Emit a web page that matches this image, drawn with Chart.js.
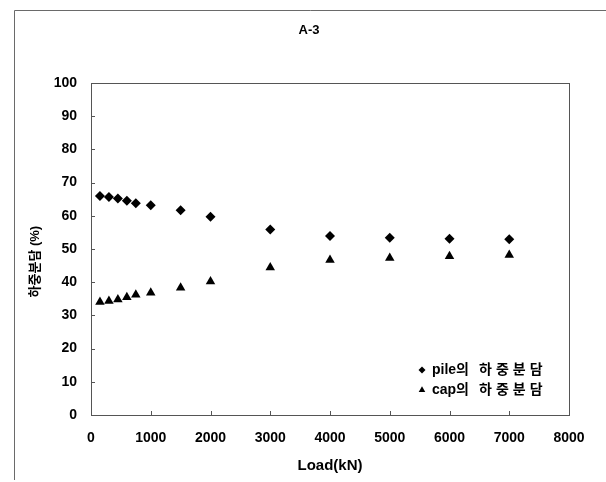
<!DOCTYPE html>
<html>
<head>
<meta charset="utf-8">
<script src="https://cdn.jsdelivr.net/npm/chart.js@4.4.1/dist/chart.umd.min.js"></script>
<style>
  html, body { margin: 0; padding: 0; background: #fff; }
  #wrap { width: 606px; height: 482px; position: relative; }
</style>
</head>
<body>
<div id="wrap"><canvas id="chart" width="606" height="482"></canvas></div>
<script>
// Load steps (kN) and the share of load carried by pile / cap (%)
const loads = [150, 300, 450, 600, 750, 1000, 1500, 2000, 3000, 4000, 5000, 6000, 7000];
const pileShare = [66.0, 65.7, 65.2, 64.5, 63.8, 63.2, 61.7, 59.7, 55.9, 53.9, 53.4, 53.1, 52.9];
const capShare = [34.0, 34.3, 34.8, 35.5, 36.2, 36.8, 38.3, 40.2, 44.4, 46.7, 47.3, 47.8, 48.2];
const seriesNames = ['pile의 하중분담', 'cap의 하중분담'];

const FONT = '"Liberation Sans", Arial, "Noto Sans CJK KR", sans-serif';

const toPoints = (xs, ys) => xs.map((x, i) => ({ x: x, y: ys[i] }));

/**
 * Outer page frame, plot box, inward tick marks and the corner legend
 */
const framePlugin = {
    id: 'frame',
    beforeDraw(chart) {
        const ctx = chart.ctx;
        ctx.save();
        ctx.strokeStyle = '#6a6a6a';
        ctx.lineWidth = 1;
        ctx.beginPath();
        ctx.moveTo(14.5, 480);
        ctx.lineTo(14.5, 10.5);
        ctx.lineTo(606, 10.5);
        ctx.stroke();
        ctx.restore();
    },
    afterDraw(chart) {
        const ctx = chart.ctx;
        const area = chart.chartArea;
        const xs = chart.scales.x;
        const ys = chart.scales.y;
        ctx.save();
        ctx.strokeStyle = '#555';
        ctx.lineWidth = 1;
        ctx.strokeRect(Math.round(area.left) + 0.5, Math.round(area.top) + 0.5,
            Math.round(area.right - area.left), Math.round(area.bottom - area.top));

        // inward ticks
        ctx.beginPath();
        xs.ticks.forEach(t => {
            const px = Math.round(xs.getPixelForValue(t.value)) + 0.5;
            ctx.moveTo(px, area.bottom);
            ctx.lineTo(px, area.bottom - 4);
        });
        ys.ticks.forEach(t => {
            const py = Math.round(ys.getPixelForValue(t.value)) + 0.5;
            ctx.moveTo(area.left, py);
            ctx.lineTo(area.left + 4, py);
        });
        ctx.stroke();

        // legend in lower right corner
        const styles = ['rectRot', 'triangle'];
        const radii = [3.5, 3.8];
        const lx = 422;
        const rows = [370, 390];
        ctx.textBaseline = 'middle';
        rows.forEach((ry, i) => {
            ctx.fillStyle = '#000';
            if (Chart.helpers && Chart.helpers.drawPoint) {
                Chart.helpers.drawPoint(ctx, { pointStyle: styles[i], radius: radii[i], borderWidth: 0 }, lx, ry);
                ctx.fillStyle = '#000';
            }
            const parts = seriesNames[i].split(' ');
            ctx.font = 'bold 14px ' + FONT;
            ctx.letterSpacing = '0px';
            ctx.fillText(parts[0], lx + 10, ry);
            const w = ctx.measureText(parts[0]).width;
            ctx.letterSpacing = '4px';
            ctx.fillText(parts[1], lx + 10 + w + 10, ry);
        });
        ctx.restore();
    }
};

const chartData = {
    datasets: [{
        label: seriesNames[0],
        data: toPoints(loads, pileShare),
        pointStyle: 'rectRot',
        pointRadius: 5,
        backgroundColor: '#000',
        borderColor: '#000',
        borderWidth: 0,
        showLine: false
    }, {
        label: seriesNames[1],
        data: toPoints(loads, capShare),
        pointStyle: 'triangle',
        pointRadius: 5.5,
        backgroundColor: '#000',
        borderColor: '#000',
        borderWidth: 0,
        showLine: false
    }]
};

const options = {
    responsive: false,
    animation: false,
    layout: { padding: { left: 12, right: 0, top: 0, bottom: 0 } },
    plugins: {
        legend: { display: false },
        tooltip: { enabled: false },
        title: {
            display: true,
            text: 'A-3',
            color: '#000',
            font: { family: FONT, size: 13, weight: 'bold' },
            padding: { top: 23, bottom: 44.4 }
        }
    },
    scales: {
        x: {
            type: 'linear',
            min: 0,
            max: 8000,
            grid: { display: false, drawTicks: false },
            border: { display: false },
            ticks: {
                stepSize: 1000,
                color: '#000',
                padding: 15,
                maxRotation: 0,
                font: { family: FONT, size: 14, weight: 'bold' },
                callback: (value) => String(value)
            },
            title: {
                display: true,
                text: 'Load(kN)',
                color: '#000',
                font: { family: FONT, size: 15, weight: 'bold' },
                padding: { top: 0, bottom: 7 }
            },
            afterFit: (scale) => { scale.height = 67; }
        },
        y: {
            min: 0,
            max: 100,
            grid: { display: false, drawTicks: false },
            border: { display: false },
            ticks: {
                stepSize: 10,
                color: '#000',
                padding: 14,
                font: { family: FONT, size: 14, weight: 'bold' }
            },
            title: {
                display: true,
                text: '하중분담 (%)       ',
                color: '#000',
                font: { family: FONT, size: 13, weight: 'bold' },
                padding: { top: 16, bottom: 0 }
            },
            afterFit: (scale) => { scale.width = 79; }
        },
        // empty right-hand axis, only reserves the margin right of the plot box
        yRight: {
            position: 'right',
            min: 0,
            max: 100,
            grid: { display: false, drawTicks: false },
            border: { display: false },
            ticks: { display: false },
            afterFit: (scale) => { scale.width = 37; }
        }
    }
};

new Chart(document.getElementById('chart'), {
    type: 'scatter',
    data: chartData,
    options: options,
    plugins: [framePlugin]
});
</script>
</body>
</html>
